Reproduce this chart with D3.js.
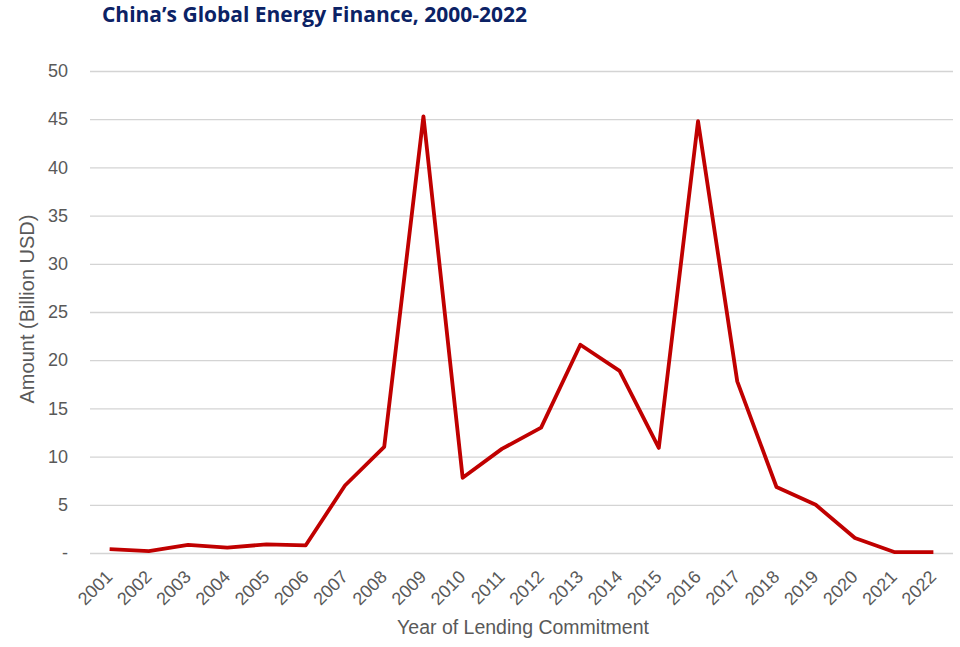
<!DOCTYPE html>
<html>
<head>
<meta charset="utf-8">
<script src="https://cdn.jsdelivr.net/npm/d3@7"></script>
<style>
body{margin:0;background:#fff;}
svg{display:block;}
</style>
</head>
<body>
<div id="chart"></div>
<script>
// years and lending amounts (billion USD)
const years = ['2001','2002','2003','2004','2005','2006','2007','2008','2009','2010','2011',
	'2012','2013','2014','2015','2016','2017','2018','2019','2020','2021','2022'];
const amounts = [0.4,0.2,0.85,0.55,0.9,0.8,7.0,11.0,45.3,7.8,10.8,
	13.0,21.6,18.9,10.9,44.8,17.8,6.85,5.0,1.55,0.1,0.1];
const yTicks = [0,5,10,15,20,25,30,35,40,45,50];

const width = 960, height = 647;
const margin = {l:90, t:71, r:7, b:94};
const font = "'Liberation Sans', Arial, sans-serif";

const svg = d3.select('#chart').append('svg')
	.attr('width', width)
	.attr('height', height);

const x = d3.scaleBand()
	.domain(years)
	.range([margin.l, width - margin.r]);

const y = d3.scaleLinear()
	.domain([0, 50])
	.range([height - margin.b, margin.t]);

// title
svg.append('text')
	.attr('x', 102)
	.attr('y', 21.5)
	.attr('fill', '#0b2265')
	.attr('font-family', "'Open Sans', sans-serif")
	.attr('font-weight', 'bold')
	.attr('font-size', 21)
	.attr('textLength', 425)
	.attr('lengthAdjust', 'spacingAndGlyphs')
	.text('China\u2019s Global Energy Finance, 2000-2022');

// grid + y labels
const yAxis = svg.append('g')
	.attr('transform', `translate(${margin.l},0)`)
	.call(d3.axisLeft(y)
		.tickValues(yTicks)
		.tickSize(-(width - margin.l - margin.r))
		.tickPadding(22)
		.tickFormat(d => d === 0 ? '-' : d));
yAxis.select('.domain').remove();
yAxis.selectAll('.tick line').attr('stroke', '#d4d4d4').attr('stroke-width', 1.3);
yAxis.selectAll('.tick text')
	.attr('fill', '#595959')
	.attr('font-family', font)
	.attr('font-size', 18);

// x labels
const xAxis = svg.append('g')
	.attr('transform', `translate(0,${height - margin.b})`)
	.call(d3.axisBottom(x).tickSize(0).tickPadding(0));
xAxis.select('.domain').remove();
xAxis.selectAll('.tick text')
	.attr('fill', '#595959')
	.attr('font-family', font)
	.attr('font-size', 18)
	.attr('text-anchor', 'end')
	.attr('dy', null)
	.attr('transform', 'translate(4,25) rotate(-45)');

// axis titles
svg.append('text')
	.attr('transform', `translate(34,309) rotate(-90)`)
	.attr('text-anchor', 'middle')
	.attr('fill', '#595959')
	.attr('font-family', font)
	.attr('font-size', 20)
	.text('Amount (Billion USD)');

svg.append('text')
	.attr('x', 523)
	.attr('y', 634)
	.attr('text-anchor', 'middle')
	.attr('fill', '#595959')
	.attr('font-family', font)
	.attr('font-size', 19.5)
	.text('Year of Lending Commitment');

// the line
const line = d3.line()
	.x((d, i) => x(years[i]) + x.bandwidth() / 2)
	.y(d => y(d));

svg.append('path')
	.datum(amounts)
	.attr('fill', 'none')
	.attr('stroke', '#c00000')
	.attr('stroke-width', 3.8)
	.attr('stroke-linejoin', 'round')
	.attr('d', line);
</script>
</body>
</html>
